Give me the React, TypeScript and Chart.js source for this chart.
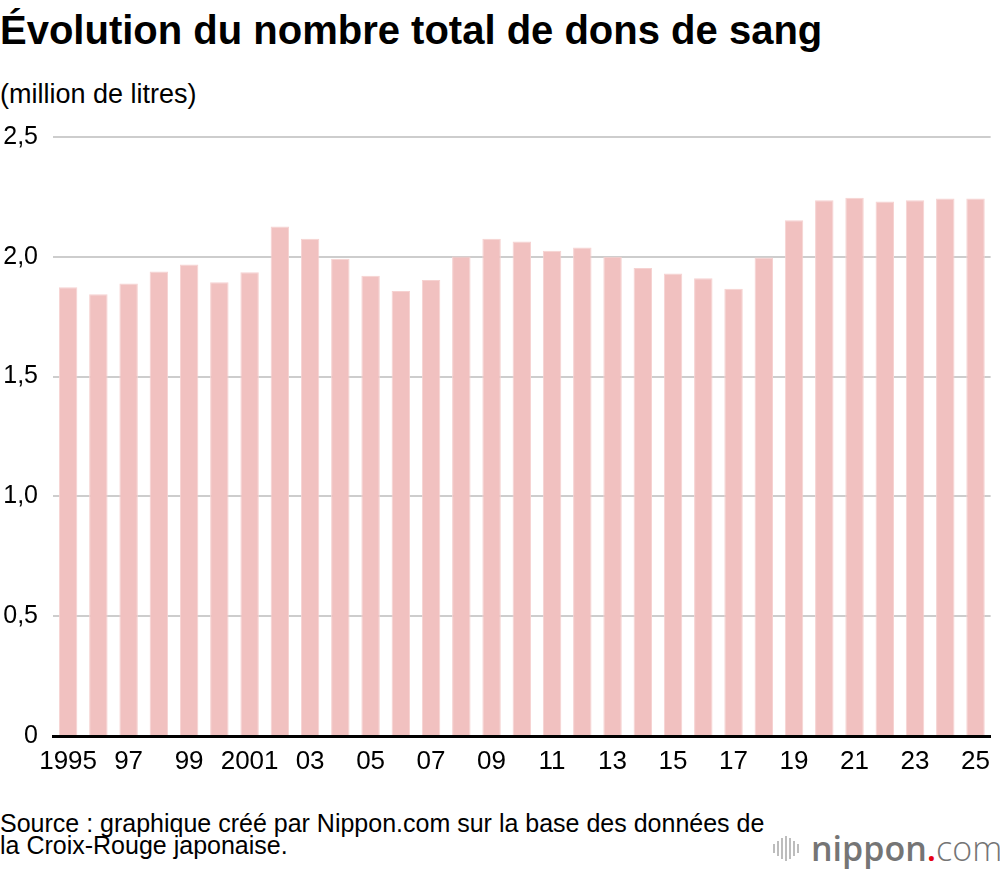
import { useEffect, useRef } from "react";
import { Chart, registerables } from "chart.js";

Chart.register(...registerables);

// Blood donations, million litres
const years = [
  "1995", "1996", "1997", "1998", "1999", "2000", "2001", "2002", "2003", "2004",
  "2005", "2006", "2007", "2008", "2009", "2010", "2011", "2012", "2013", "2014",
  "2015", "2016", "2017", "2018", "2019", "2020", "2021", "2022", "2023", "2024",
  "2025",
];
const donations = [
  1.873, 1.844, 1.889, 1.939, 1.968, 1.894, 1.935, 2.126, 2.075, 1.992,
  1.921, 1.857, 1.903, 2.001, 2.075, 2.064, 2.025, 2.039, 2.0, 1.953,
  1.93, 1.91, 1.867, 1.997, 2.153, 2.236, 2.246, 2.231, 2.236, 2.243,
  2.243,
];
const xTickLabels = [
  "1995", "", "97", "", "99", "", "2001", "", "03", "",
  "05", "", "07", "", "09", "", "11", "", "13", "",
  "15", "", "17", "", "19", "", "21", "", "23", "",
  "25",
];
const yTickLabels = ["0", "0,5", "1,0", "1,5", "2,0", "2,5"];

const FONT = "'Liberation Sans', Arial, Helvetica, sans-serif";
const logoBars = [9, 15, 21, 25, 21, 15, 9];

export default function App() {
  const canvasRef = useRef<HTMLCanvasElement | null>(null);

  useEffect(() => {
    if (!canvasRef.current) return;
    const chart = new Chart(canvasRef.current, {
      type: "bar",
      data: {
        labels: years,
        datasets: [
          {
            data: donations,
            backgroundColor: "#f1c1c0",
            borderColor: "#f6d2d1",
            borderWidth: 1,
            categoryPercentage: 1,
            barPercentage: 0.61,
          },
        ],
      },
      options: {
        responsive: false,
        animation: false,
        layout: { padding: { top: 21, right: 1, bottom: 0, left: 0 } },
        plugins: {
          legend: { display: false },
          tooltip: { enabled: false },
        },
        scales: {
          x: {
            grid: { display: false, drawTicks: false },
            border: { display: true, color: "#000000", width: 3 },
            ticks: {
              autoSkip: false,
              maxRotation: 0,
              padding: 10,
              color: "#000000",
              font: { family: FONT, size: 26 },
              callback: (_v, i) => xTickLabels[i],
            },
            afterFit: (scale) => {
              scale.height = 64;
            },
          },
          y: {
            min: 0,
            max: 2.5,
            grid: { color: "#cdcdcd", lineWidth: 2, drawTicks: false },
            border: { display: false },
            ticks: {
              stepSize: 0.5,
              padding: 15,
              color: "#000000",
              font: { family: FONT, size: 25 },
              callback: (_v, i) => yTickLabels[i],
            },
            afterFit: (scale) => {
              scale.width = 53;
            },
          },
        },
      },
    });
    return () => chart.destroy();
  }, []);

  return (
    <div
      style={{
        position: "absolute",
        left: 0,
        top: 0,
        width: 1000,
        height: 870,
        background: "#ffffff",
        fontFamily: FONT,
        color: "#000000",
        overflow: "hidden",
      }}
    >
      <div
        style={{
          position: "absolute",
          left: 0,
          top: 10,
          fontSize: 40,
          fontWeight: 700,
          lineHeight: "40px",
          whiteSpace: "nowrap",
        }}
      >
        Évolution du nombre total de dons de sang
      </div>
      <div
        style={{
          position: "absolute",
          left: 0,
          top: 80,
          fontSize: 27,
          lineHeight: "28px",
          whiteSpace: "nowrap",
        }}
      >
        (million de litres)
      </div>
      <canvas
        ref={canvasRef}
        width={1000}
        height={693}
        style={{ position: "absolute", left: 0, top: 107, width: 1000, height: 693 }}
      />
      <div
        style={{
          position: "absolute",
          left: 0,
          top: 812,
          fontSize: 25,
          lineHeight: "22px",
          whiteSpace: "nowrap",
        }}
      >
        Source : graphique créé par Nippon.com sur la base des données de
        <br />
        la Croix-Rouge japonaise.
      </div>
      <div
        style={{
          position: "absolute",
          left: 773,
          top: 832,
          height: 32,
          display: "flex",
          alignItems: "center",
          whiteSpace: "nowrap",
        }}
      >
        <div style={{ display: "flex", alignItems: "center", gap: 2, marginRight: 12 }}>
          {logoBars.map((h, i) => (
            <span
              key={i}
              style={{ display: "block", width: 2, height: h, background: "#bdbdbd" }}
            />
          ))}
        </div>
        <span
          style={{
            fontFamily: "'Open Sans', 'Noto Sans', sans-serif",
            fontSize: 34,
            lineHeight: "32px",
            color: "#757575",
            fontWeight: 600,
          }}
        >
          nippon
          <span style={{ color: "#e60012" }}>.</span>
          <span style={{ fontWeight: 300 }}>com</span>
        </span>
      </div>
    </div>
  );
}
